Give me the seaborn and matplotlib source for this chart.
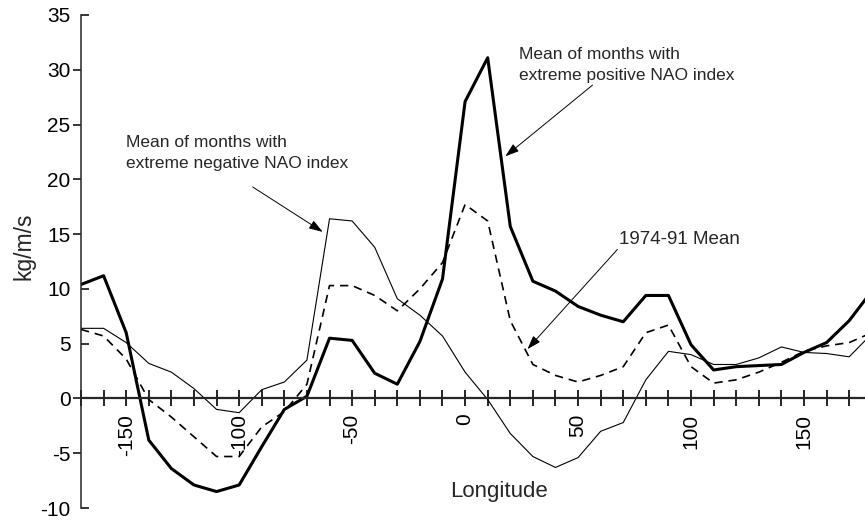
import matplotlib
matplotlib.use('Agg')
import matplotlib.pyplot as plt
import matplotlib.lines as mlines
import seaborn as sns
import pandas as pd

# Longitude grid (degrees) and the three curves (kg/m/s)
lon = list(range(-170, 181, 10))
pos_nao = [10.4, 11.2, 6.0, -3.8, -6.4, -7.9, -8.5, -7.9, -4.4, -1.0,
           0.2, 5.5, 5.3, 2.3, 1.3, 5.2, 10.9, 27.1, 31.1, 15.7,
           10.7, 9.8, 8.4, 7.6, 7.0, 9.4, 9.4, 4.9, 2.6, 2.9,
           3.0, 3.1, 4.2, 5.1, 7.1, 9.8]
mean_7491 = [6.3, 5.7, 3.6, -0.1, -1.7, -3.5, -5.3, -5.3, -2.6, -1.2,
             1.3, 10.3, 10.3, 9.4, 8.0, 10.0, 12.4, 17.7, 16.2, 7.1,
             3.1, 2.1, 1.5, 2.1, 2.9, 6.0, 6.7, 2.9, 1.4, 1.7,
             2.4, 3.3, 4.3, 4.8, 5.1, 6.0]
neg_nao = [6.4, 6.4, 5.1, 3.2, 2.4, 0.9, -1.0, -1.3, 0.8, 1.5,
           3.5, 16.4, 16.2, 13.8, 9.1, 7.6, 5.7, 2.4, -0.1, -3.2,
           -5.3, -6.3, -5.4, -3.0, -2.2, 1.7, 4.3, 4.0, 3.1, 3.1,
           3.7, 4.7, 4.2, 4.1, 3.8, 5.9]

x_ticks = list(range(-170, 171, 10))
y_ticks = list(range(-10, 36, 5))
y_ticks_in = [-10, 5, 10, 35]

df = pd.DataFrame({'lon': lon, 'pos': pos_nao, 'mean': mean_7491, 'neg': neg_nao})

sns.set_style('ticks')
plt.rcParams['font.family'] = ['Liberation Sans', 'DejaVu Sans']
plt.rcParams['axes.unicode_minus'] = False

fig = plt.figure(figsize=(8.65, 5.21), dpi=100)
ax = fig.add_axes([81 / 865, 13 / 521, 784 / 865, 493 / 521])

sns.lineplot(data=df, x='lon', y='neg', color='black', linewidth=0.8, ax=ax)
sns.lineplot(data=df, x='lon', y='mean', color='black', linewidth=1.2,
             linestyle=(0, (5, 3.5)), ax=ax)
sns.lineplot(data=df, x='lon', y='pos', color='black', linewidth=2.2, ax=ax)

ax.set_xlim(-170, 177)
ax.set_ylim(-10, 35)

# axis styling: x axis runs along y = 0
ax.spines['top'].set_visible(False)
ax.spines['right'].set_visible(False)
ax.spines['bottom'].set_position(('data', 0))
ax.spines['bottom'].set_linewidth(1.6)
ax.spines['left'].set_linewidth(1.1)

ax.set_xticks(x_ticks)
ax.set_xticklabels([str(t) if t % 50 == 0 else '' for t in x_ticks],
                   rotation=90, va='top', ha='center')
ax.tick_params(axis='x', direction='inout', length=12, width=1.2, pad=5,
               labelsize=15, colors='black')
ax.set_yticks(y_ticks)
ax.set_yticklabels([str(t) for t in y_ticks])
ax.tick_params(axis='y', direction='out', length=6, width=1.1, pad=1.5,
               labelsize=15, colors='black')
# some ticks of the y axis point inward
for val, t in zip(y_ticks, ax.yaxis.get_major_ticks()):
    if val in y_ticks_in:
        t.tick1line.set_marker(mlines.TICKRIGHT)

ax.set_xlabel('Longitude', fontsize=16)
ax.xaxis.set_label_coords(0.533, 0.033)
ax.xaxis.label.set_va('center')
ax.set_ylabel('kg/m/s', fontsize=16.5)
ax.yaxis.set_label_coords(-0.073, 0.531)
ax.yaxis.label.set_va('center')

# annotations
arrow = dict(arrowstyle='-|>,head_length=0.6,head_width=0.2', color='black',
             lw=0.7, mutation_scale=14, shrinkA=0, shrinkB=0)
ax.text(-150.3, 22.4, 'Mean of months with\nextreme negative NAO index',
        fontsize=12.5, ha='left', va='center', linespacing=1.5)
ax.annotate('', xy=(-63, 15.2), xytext=(-94, 19.3), arrowprops=arrow)
ax.text(23.9, 30.4, 'Mean of months with\nextreme positive NAO index',
        fontsize=12.5, ha='left', va='center', linespacing=1.5)
ax.annotate('', xy=(17.8, 22.1), xytext=(56.4, 28.6), arrowprops=arrow)
ax.text(68.3, 14.5, '1974-91 Mean', fontsize=13.5, ha='left', va='center')
ax.annotate('', xy=(27.6, 4.5), xytext=(67.4, 13.6), arrowprops=arrow)

fig.savefig('out.png', dpi=100)
